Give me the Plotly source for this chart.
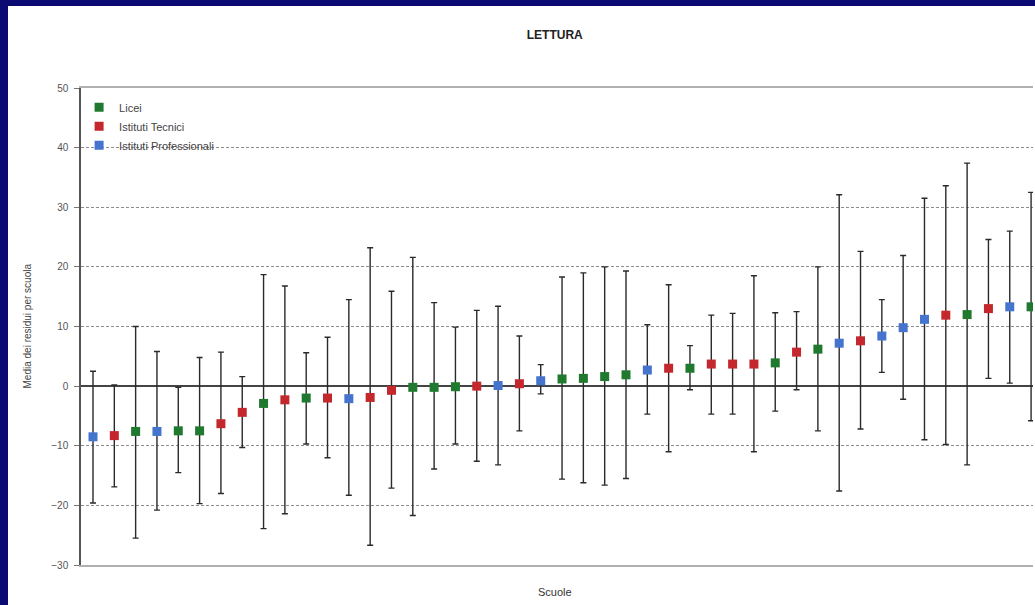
import plotly.graph_objects as go

# ---- data ----
categories = ["P", "T", "L", "P", "L", "L", "T", "T", "L", "T",
              "L", "T", "P", "T", "T", "L", "L", "L", "T", "P",
              "T", "P", "L", "L", "L", "L", "P", "T", "L", "T",
              "T", "T", "L", "T", "L", "P", "T", "P", "P", "P",
              "T", "L", "T", "P", "L"]
means = [-8.5, -8.3, -7.6, -7.6, -7.5, -7.5, -6.3, -4.4, -2.9, -2.3,
         -2.0, -2.0, -2.1, -1.9, -0.7, -0.2, -0.2, -0.1, 0.0, 0.1,
         0.4, 0.9, 1.2, 1.3, 1.6, 1.9, 2.7, 3.0, 3.0, 3.7,
         3.7, 3.7, 3.9, 5.7, 6.2, 7.2, 7.6, 8.4, 9.8, 11.2,
         11.9, 12.0, 13.0, 13.3, 13.3]
lowers = [-19.6, -16.9, -25.5, -20.8, -14.5, -19.7, -18.0, -10.3, -23.9, -21.4,
          -9.7, -12.0, -18.3, -26.7, -17.1, -21.7, -13.9, -9.7, -12.6, -13.2,
          -7.5, -1.3, -15.6, -16.2, -16.6, -15.5, -4.7, -11.0, -0.6, -4.7,
          -4.7, -11.0, -4.2, -0.6, -7.5, -17.6, -7.2, 2.3, -2.2, -9.0,
          -9.8, -13.2, 1.3, 0.5, -5.8]
uppers = [2.5, 0.2, 10.0, 5.8, -0.2, 4.8, 5.7, 1.6, 18.7, 16.8,
          5.6, 8.2, 14.5, 23.2, 15.9, 21.6, 14.0, 9.9, 12.7, 13.4,
          8.4, 3.6, 18.3, 19.0, 20.0, 19.3, 10.3, 17.0, 6.8, 11.9,
          12.2, 18.5, 12.3, 12.5, 20.0, 32.1, 22.6, 14.5, 21.9, 31.5,
          33.6, 37.4, 24.6, 26.0, 32.5]
series_names = {"L": "Licei", "T": "Istituti Tecnici", "P": "Istituti Professionali"}
series_colors = {"L": "#1f7a30", "T": "#c4282d", "P": "#4574cf"}
y_ticks = [-30, -20, -10, 0, 10, 20, 30, 40, 50]

fig = go.Figure()
for key in ["L", "T", "P"]:
    idx = [i for i, c in enumerate(categories) if c == key]
    fig.add_trace(go.Scatter(
        x=idx,
        y=[means[i] for i in idx],
        mode="markers",
        name=series_names[key],
        marker=dict(symbol="square", size=9, color=series_colors[key]),
        error_y=dict(
            type="data", symmetric=False,
            array=[uppers[i] - means[i] for i in idx],
            arrayminus=[means[i] - lowers[i] for i in idx],
            color="#2a2a2a", thickness=1.4, width=3,
        ),
    ))

fig.update_layout(
    width=1035, height=605,
    margin=dict(l=81, r=2, t=88, b=40),
    paper_bgcolor="white", plot_bgcolor="white",
    font=dict(family="Liberation Sans, Arial, sans-serif", color="#444"),
    title=dict(text="<b>LETTURA</b>", x=0.536, xanchor="center",
               y=1 - 35 / 605, yanchor="middle",
               font=dict(size=12, color="#222")),
    showlegend=True,
    legend=dict(x=-0.002, y=0.99, xanchor="left", yanchor="top",
                bgcolor="rgba(0,0,0,0)", font=dict(size=11, color="#444"),
                itemwidth=30, tracegroupgap=0),
    xaxis=dict(range=[-0.563, 44.09], showgrid=False, zeroline=False,
               showticklabels=False, ticks="", showline=True, mirror=True,
               linecolor="#b0b0b0", linewidth=2),
    yaxis=dict(range=[-30, 50], tickvals=y_ticks, ticks="outside", ticklen=5,
               tickcolor="#777", tickfont=dict(size=10, color="#555"),
               ticklabelstandoff=4,
               showgrid=True, gridcolor="#8c8c8c", gridwidth=1.3,
               griddash="3px,2px",
               zeroline=True, zerolinecolor="#444", zerolinewidth=1.5,
               showline=True, linecolor="#555", linewidth=1.5),
)

# axis titles
fig.add_annotation(text="Scuole", xref="paper", yref="paper",
                   x=(555 - 81) / 952, y=(565 - 592) / 477,
                   xanchor="center", yanchor="middle", showarrow=False,
                   font=dict(size=11, color="#333"))
fig.add_annotation(text="Media dei residui per scuola", xref="paper", yref="paper",
                   x=(27 - 81) / 952, y=0.5, textangle=-90,
                   xanchor="center", yanchor="middle", showarrow=False,
                   font=dict(size=10, color="#444"))

# dark blue frame (left and top strips)
def px_x(p):
    return (p - 81) / 952

def px_y(p):
    return (565 - p) / 477

frame = "#0b0a72"
fig.add_shape(type="rect", xref="paper", yref="paper",
              x0=px_x(0), x1=px_x(8), y0=px_y(605), y1=px_y(0),
              fillcolor=frame, line_width=0, layer="above")
fig.add_shape(type="rect", xref="paper", yref="paper",
              x0=px_x(0), x1=px_x(1035), y0=px_y(6), y1=px_y(0),
              fillcolor=frame, line_width=0, layer="above")

fig.write_html("out.html",
               config={"displayModeBar": False},
               post_script=["document.body.style.margin='0';"
                            "document.body.style.padding='0';"
                            "document.body.style.overflow='hidden';"])
